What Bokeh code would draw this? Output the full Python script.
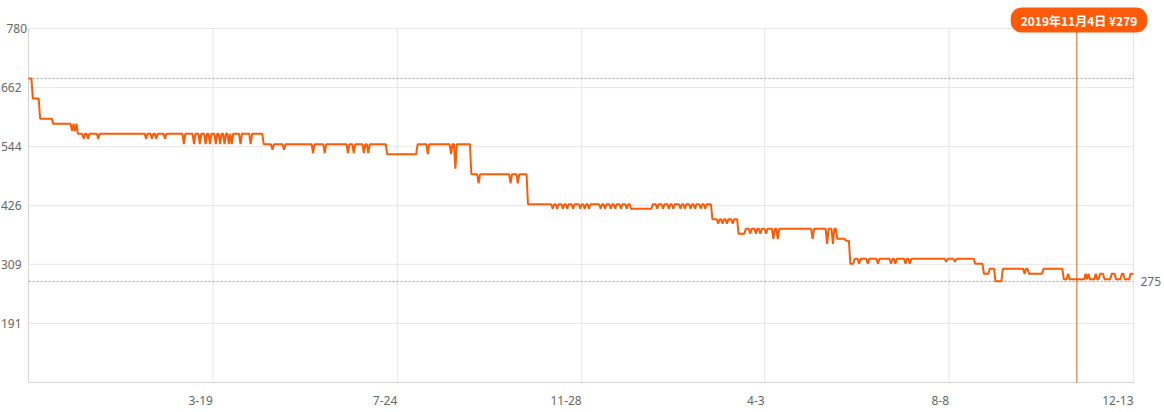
import pandas as pd
from bokeh.plotting import figure
from bokeh.models import Range1d, Label
from bokeh.core.properties import value
from bokeh.embed import file_html
from bokeh.resources import INLINE

# ---------------- data ----------------
start_date = "2017-11-12"
end_date = "2019-12-13"

# price level in force from a given day (days counted from start_date)
step_days = [0, 3, 8, 17, 34, 162, 247, 268, 305, 344, 415, 430, 471, 489,
             494, 557, 563, 566, 569, 652, 658, 662, 666, 671, 689, 699, 713]
step_prices = [680, 640, 600, 590, 570, 549, 529, 549, 489, 429, 420, 429, 399,
               370, 380, 360, 356, 310, 320, 310, 290, 300, 275, 300, 290, 300, 279]

# single-day price deviations
dip_days = [30, 32,
            38, 41, 48, 81, 85, 88, 94,
            107, 114, 118, 122, 125, 129, 132, 135, 138, 140, 146, 153,
            168, 176,
            196, 204, 220, 224, 231, 234,
            275, 291, 294,
            310, 332, 337,
            361, 364, 368, 371, 375, 380, 383, 386, 394, 397, 401, 404, 408, 412,
            433, 437, 441, 444, 449, 452, 456, 459, 463, 466,
            475, 478, 481, 485,
            497, 501, 504, 508,
            513, 516, 540, 550, 554,
            572, 578, 585, 594, 597, 604, 607,
            632, 638,
            686,
            716, 728, 730, 735, 738, 739, 740, 746, 747, 748, 753, 754, 759, 760, 761]
dip_prices = [575, 575,
              560, 560, 560, 560, 560, 560, 560,
              549, 549, 549, 549, 549, 549, 549, 549, 549, 549, 549, 549,
              538, 538,
              531, 531, 531, 531, 531, 531,
              529, 529, 500,
              471, 471, 471,
              420, 420, 420, 420, 420, 420, 420, 420, 420, 420, 420, 420, 420, 420,
              420, 420, 420, 420, 420, 420, 420, 420, 420, 420,
              390, 390, 390, 390,
              370, 370, 370, 370,
              360, 360, 360, 350, 350,
              310, 310, 310, 310, 310, 310, 310,
              314, 314,
              290,
              290, 290, 290, 290, 290, 290, 290, 290, 290, 290, 290, 290, 290, 290, 290]

tick_dates = ["2018-03-19", "2018-07-24", "2018-11-28",
              "2019-04-03", "2019-08-08", "2019-12-13"]
tick_labels = ["3-19", "7-24", "11-28", "4-3", "8-8", "12-13"]

y_ticks = [191, 309, 426, 544, 662, 780]
y_min, y_max = 73, 780

marker_date = "2019-11-04"

# ---------------- build series ----------------
t0 = pd.Timestamp(start_date)
n_days = (pd.Timestamp(end_date) - t0).days + 1
last_day = n_days - 1
days = list(range(n_days))
prices = []
j = 0
for d in days:
    while j + 1 < len(step_days) and step_days[j + 1] <= d:
        j += 1
    prices.append(step_prices[j])
for d, v in zip(dip_days, dip_prices):
    prices[d] = v

hi_price = max(prices)
lo_price = min(prices)
tick_pos = [(pd.Timestamp(t) - t0).days for t in tick_dates]
marker_day = (pd.Timestamp(marker_date) - t0).days
marker_price = prices[marker_day]
mts = pd.Timestamp(marker_date)
marker_text = f"{mts.year}年{mts.month}月{mts.day}日 ¥{marker_price}"

# ---------------- layout (pixels) ----------------
W, H = 1164, 412
PL, PR, PT, PB = 28, 1133, 28, 382
xs = (PR - PL) / last_day          # px per day
ys = (PB - PT) / (y_max - y_min)   # px per price unit


def dx(px):
    return (px - PL) / xs


def dy(py):
    return y_max - (py - PT) / ys


FONT = value("Noto Sans")
p = figure(width=W, height=H, output_backend="svg", toolbar_location=None,
           x_range=Range1d(dx(0), dx(W)), y_range=Range1d(dy(H), dy(0)),
           min_border=0)
p.xaxis.visible = False
p.yaxis.visible = False
p.grid.visible = False
p.outline_line_color = None
p.background_fill_color = "white"
p.border_fill_color = "white"

GRID = "#e6e6e6"
AXIS = "#d4d4d4"
# horizontal grid
p.segment(x0=[0] * len(y_ticks), x1=[last_day] * len(y_ticks),
          y0=y_ticks, y1=y_ticks, line_color=GRID, line_width=1)
# vertical grid
p.segment(x0=tick_pos, x1=tick_pos, y0=[y_min] * len(tick_pos),
          y1=[y_max] * len(tick_pos), line_color=GRID, line_width=1)
# axes lines
p.segment(x0=[0, 0], x1=[0, last_day], y0=[y_min, y_min], y1=[y_max, y_min],
          line_color=AXIS, line_width=1)

# max / min dotted reference lines
p.segment(x0=[0, 0], x1=[last_day, last_day], y0=[hi_price, lo_price],
          y1=[hi_price, lo_price], line_color="#999999", line_dash="2 2",
          line_width=1)

# y tick labels
p.text(x=[dx(26.5) if v == y_max else dx(21) for v in y_ticks], y=y_ticks,
       text=[str(v) for v in y_ticks], text_align="right",
       text_baseline="middle", text_font=FONT, text_font_size="12px",
       text_color="#666666")
# x tick labels (right-aligned to their tick)
p.text(x=tick_pos, y=[dy(400)] * len(tick_pos), text=tick_labels,
       text_align="right", text_baseline="middle", text_font=FONT,
       text_font_size="12px", text_color="#666666")
# min price label on the right
p.text(x=[dx(1140)], y=[lo_price], text=[str(lo_price)], text_align="left",
       text_baseline="middle", text_font=FONT, text_font_size="12px",
       text_color="#666666")

# price line
p.line(days, prices, line_color="#ff5a05", line_width=2)

# hover marker
p.segment(x0=[marker_day], x1=[marker_day], y0=[dy(24)], y1=[y_min],
          line_color="#d2621a", line_width=1)
p.add_layout(Label(x=dx(1078.5), y=dy(19.5), text=marker_text,
                   text_align="center", text_baseline="middle",
                   text_font="Noto Sans CJK SC", text_font_size="12px",
                   text_font_style="bold",
                   text_color="white", background_fill_color="#ff5a0a",
                   border_radius=11,
                   padding=dict(left=10, right=10, top=4, bottom=4)))

open("out.html", "w").write(file_html(p, INLINE))
